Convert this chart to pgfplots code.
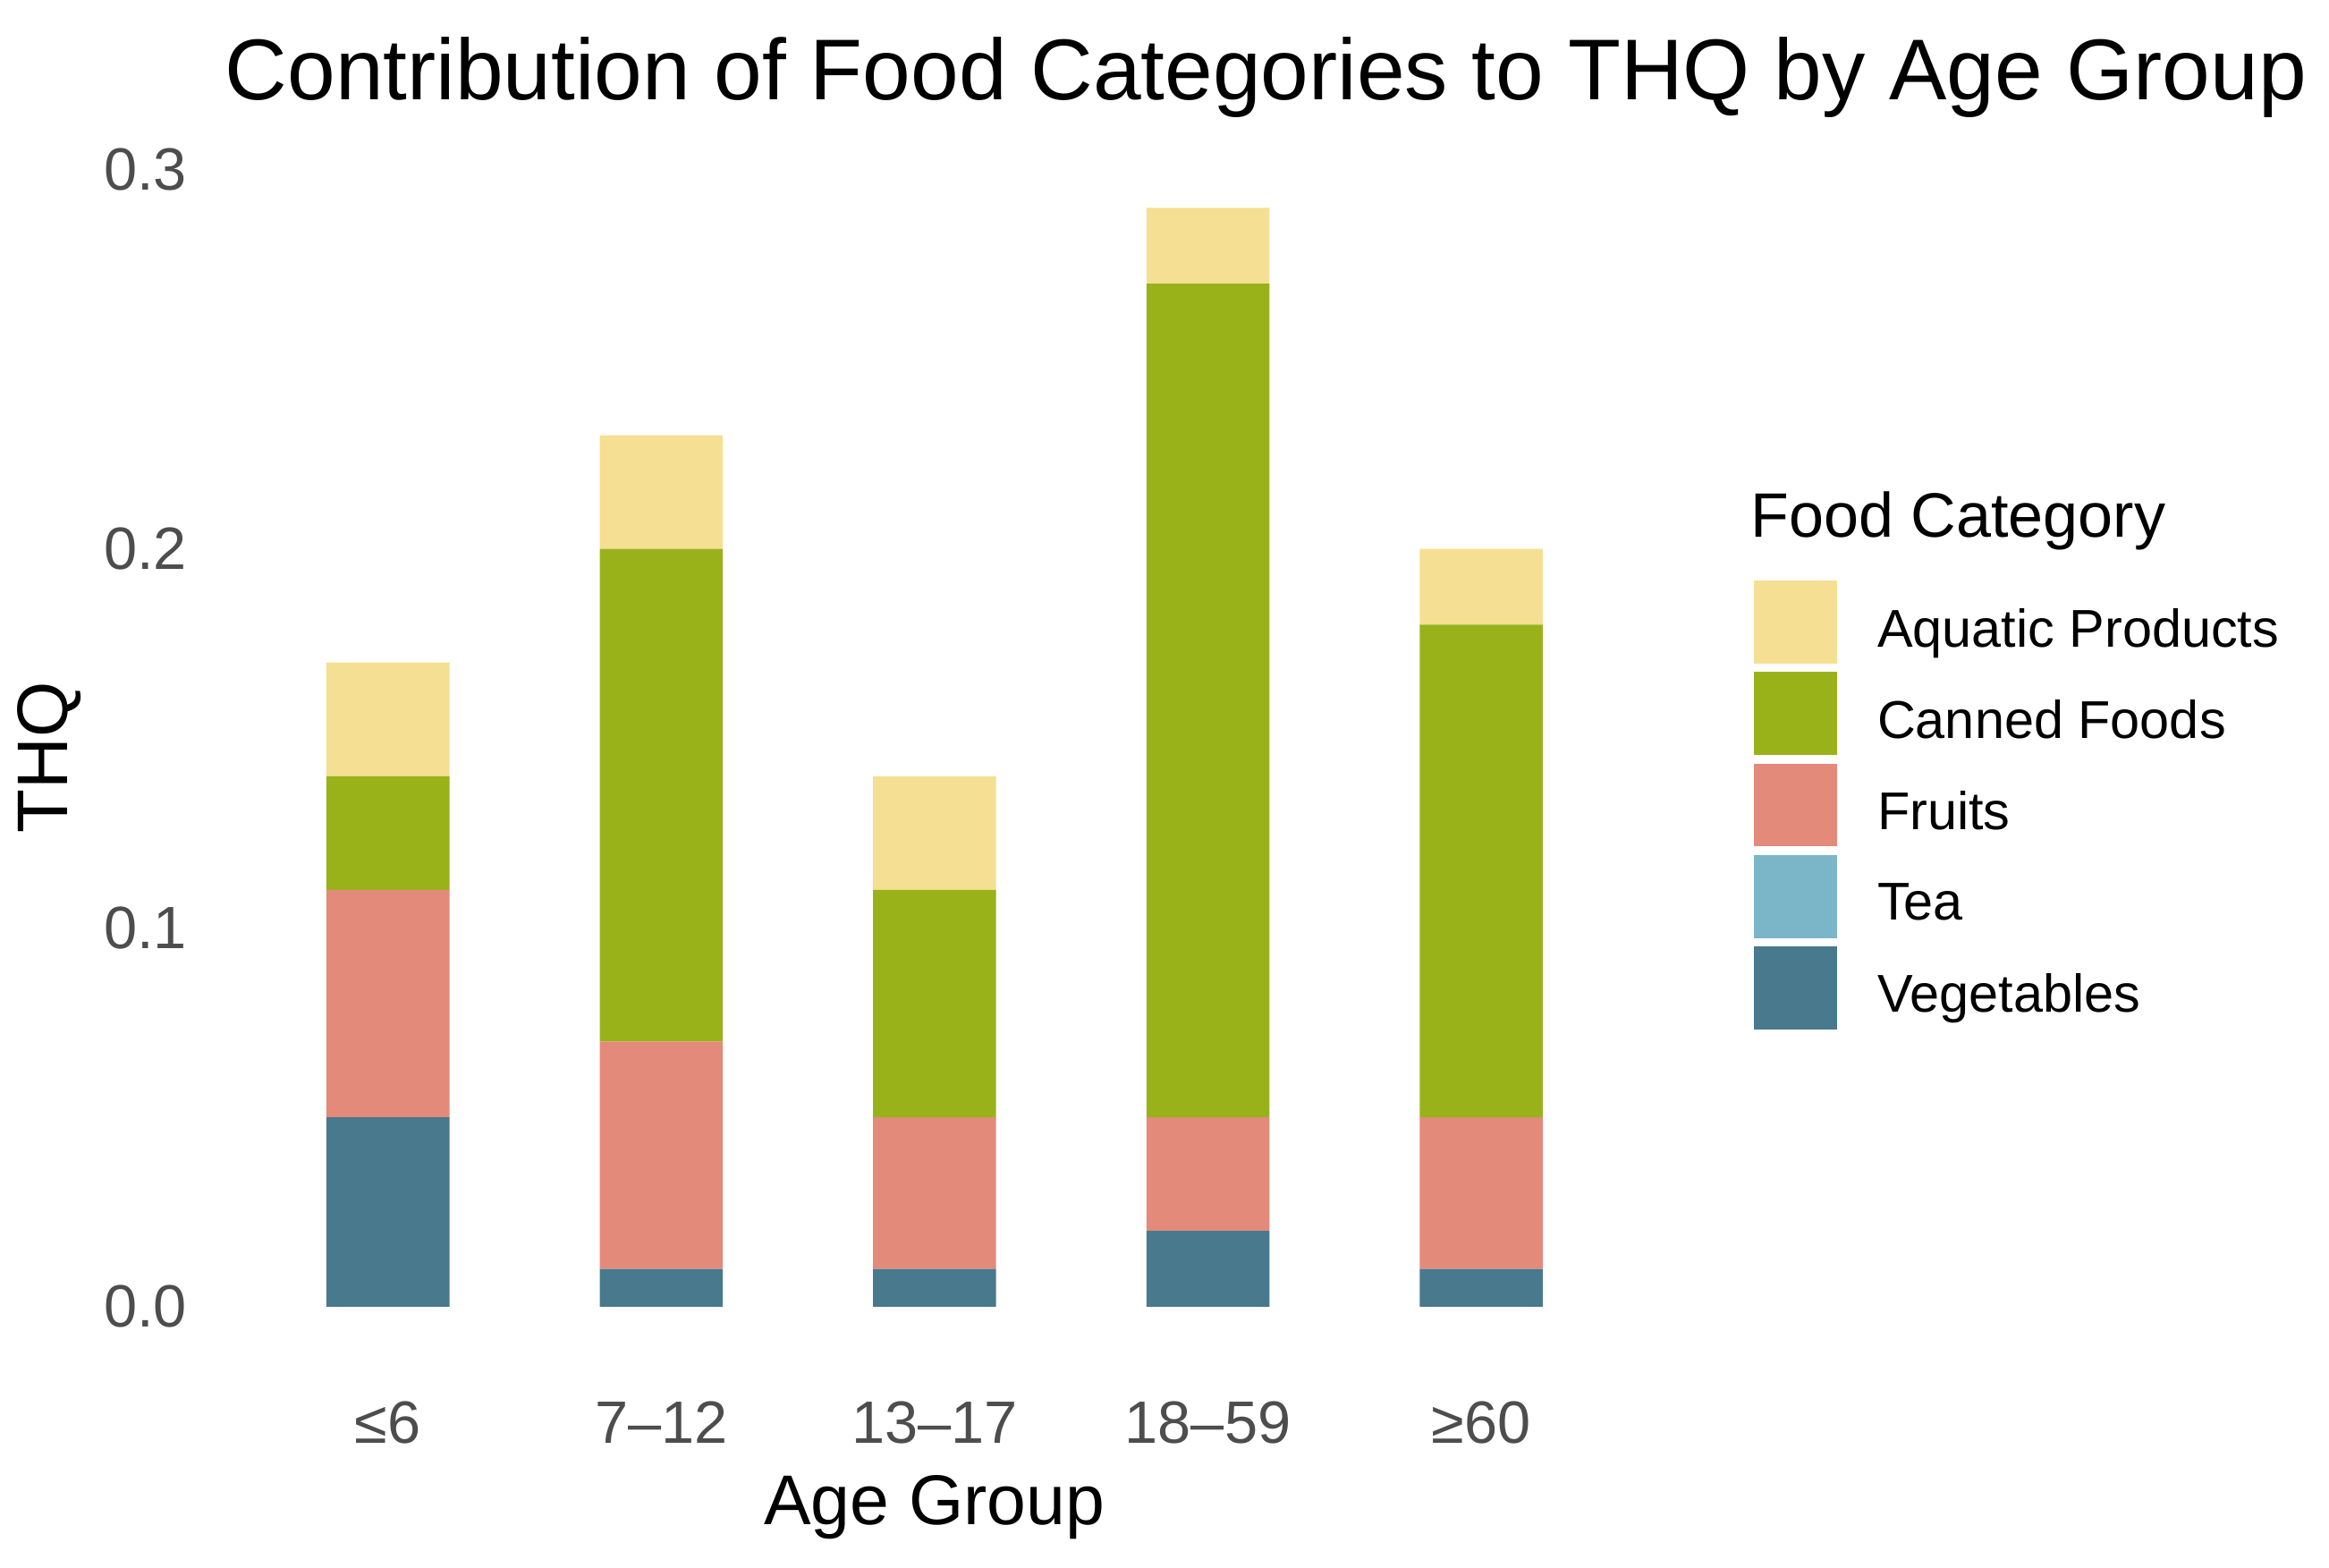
\documentclass[border=0pt]{standalone}
\usepackage{fontspec}
\setmainfont{Liberation Sans}
\usepackage{pgfplots}
\pgfplotsset{compat=1.18}

\definecolor{aquatic}{HTML}{F5DF93}
\definecolor{canned}{HTML}{99B21A}
\definecolor{fruits}{HTML}{E38A7B}
\definecolor{tea}{HTML}{7AB6C8}
\definecolor{veg}{HTML}{48798D}
\definecolor{tickgray}{HTML}{4D4D4D}

\begin{document}
\begin{tikzpicture}
\useasboundingbox (-37.5pt,-34.5pt) rectangle (352.5pt,228pt);
\begin{axis}[
    at={(0,0)}, anchor=south west,
    scale only axis,
    width=238pt, height=202.4pt,
    ybar stacked,
    bar width=0.45,
    xmin=0.4, xmax=5.6,
    ymin=-0.0145, ymax=0.3045,
    xtick={1,2,3,4,5},
    xticklabels={≤6, 7–12, 13–17, 18–59, ≥60},
    ytick={0,0.1,0.2,0.3},
    /pgf/number format/fixed,
    /pgf/number format/fixed zerofill,
    /pgf/number format/precision=1,
    /pgf/number format/assume math mode=true,
    axis line style={draw=none},
    major tick length=0pt,
    tick label style={font=\fontsize{10}{12}\selectfont, color=tickgray, inner sep=0pt},
    xticklabel style={yshift=-6.5pt},
    yticklabel style={xshift=-6pt},
    every axis title shift=0pt,
    title={Contribution of Food Categories to THQ by Age Group},
    title style={at={(0,1)}, anchor=base west, inner sep=0pt, yshift=8.9pt,
                 font=\fontsize{14.45}{17}\selectfont},
    xlabel={Age Group},
    xlabel style={at={(axis description cs:0.5,0)}, anchor=base, inner sep=0pt,
                  yshift=-27.25pt, font=\fontsize{11.8}{14}\selectfont},
    ylabel={THQ},
    ylabel style={at={(axis description cs:0,0.5)}, anchor=center, inner sep=0pt,
                  yshift=29.25pt, font=\fontsize{12}{14}\selectfont},
    legend style={at={(1.0757,0.647)}, anchor=north west, draw=none, fill=none,
                  inner sep=0pt, row sep=1.4pt, column sep=6.75pt,
                  font=\fontsize{8.9}{10}\selectfont, nodes={inner sep=0pt}},
    legend cell align=left,
    reverse legend,
    legend image code/.code={\fill[#1] (0pt,-5.3pt) rectangle (13.9pt,8.6pt);},
]
\addplot+[fill=veg, draw=none] coordinates {(1,0.05) (2,0.01) (3,0.01) (4,0.02) (5,0.01)};
\addplot+[fill=tea, draw=none] coordinates {(1,0) (2,0) (3,0) (4,0) (5,0)};
\addplot+[fill=fruits, draw=none] coordinates {(1,0.06) (2,0.06) (3,0.04) (4,0.03) (5,0.04)};
\addplot+[fill=canned, draw=none] coordinates {(1,0.03) (2,0.13) (3,0.06) (4,0.22) (5,0.13)};
\addplot+[fill=aquatic, draw=none] coordinates {(1,0.03) (2,0.03) (3,0.03) (4,0.02) (5,0.02)};
\legend{Vegetables, Tea, Fruits, Canned Foods, Aquatic Products}
\end{axis}
\node[anchor=base west, inner sep=0pt, font=\fontsize{10.5}{12}\selectfont] at (255.5pt,138pt) {Food Category};
\end{tikzpicture}
\end{document}
